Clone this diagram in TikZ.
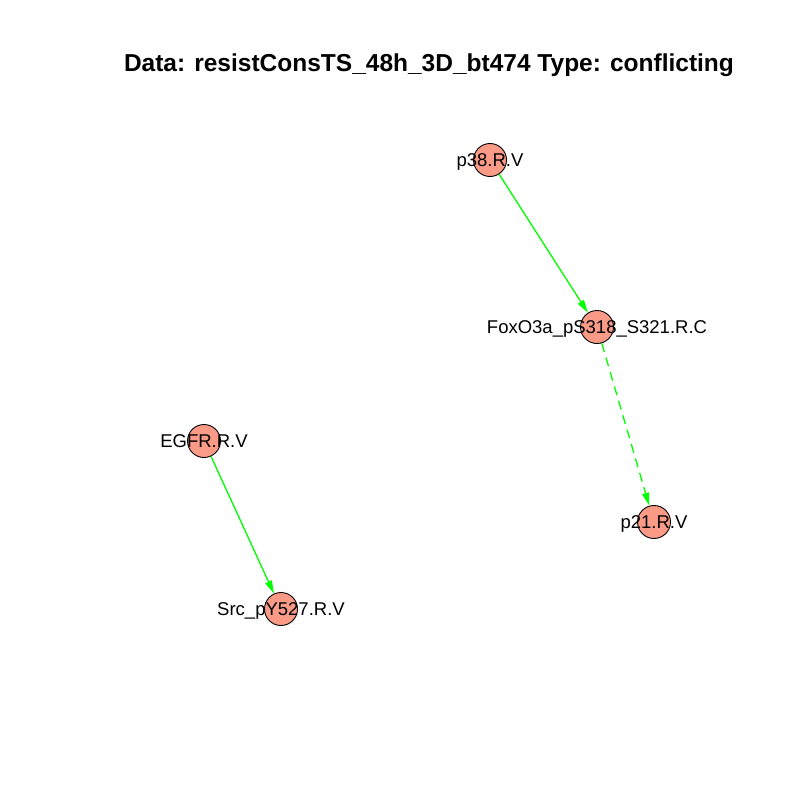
\documentclass[tikz,border=0pt]{standalone}
\usepackage{fontspec}
\setmainfont{Liberation Sans}
\usetikzlibrary{arrows.meta}
\definecolor{nodefill}{HTML}{FA9A87}
\definecolor{edgegreen}{HTML}{00FF00}
\tikzset{
  vert/.style={circle,draw=black,line width=0.9pt,fill=nodefill,minimum size=33pt,inner sep=0pt},
  lab/.style={font=\fontsize{18.5}{21}\selectfont,inner sep=0pt,anchor=base,yshift=-6.5pt},
  edge/.style={draw=edgegreen,line width=1.3pt,-{Triangle[length=13pt,width=7pt]},shorten >=0pt},
  dashededge/.style={edge,dash pattern=on 9pt off 6pt}
}
\begin{document}
\begin{tikzpicture}[x=1pt,y=-1pt]
\useasboundingbox (0,0) rectangle (800,800);
\fill[white] (0,0) rectangle (800,800);
\node[font=\bfseries\fontsize{24.5}{28}\selectfont,inner sep=0pt,anchor=base] (title) at (429,71) {Data: resistConsTS\_48h\_3D\_bt474 Type: conflicting};
\node[vert] (p38) at (490,160) {};
\node[vert] (foxo) at (597,327) {};
\node[vert] (p21) at (654,522) {};
\node[vert] (egfr) at (204,441) {};
\node[vert] (src) at (281,609) {};
\draw[edge] (p38) -- (foxo);
\draw[dashededge] (foxo) -- (p21);
\draw[edge] (egfr) -- (src);
\node[lab] (lp38) at (p38) {p38.R.V};
\node[lab] (lfoxo) at (foxo) {FoxO3a\_pS318\_S321.R.C};
\node[lab] (lp21) at (p21) {p21.R.V};
\node[lab] (legfr) at (egfr) {EGFR.R.V};
\node[lab] (lsrc) at (src) {Src\_pY527.R.V};
\end{tikzpicture}
\end{document}
